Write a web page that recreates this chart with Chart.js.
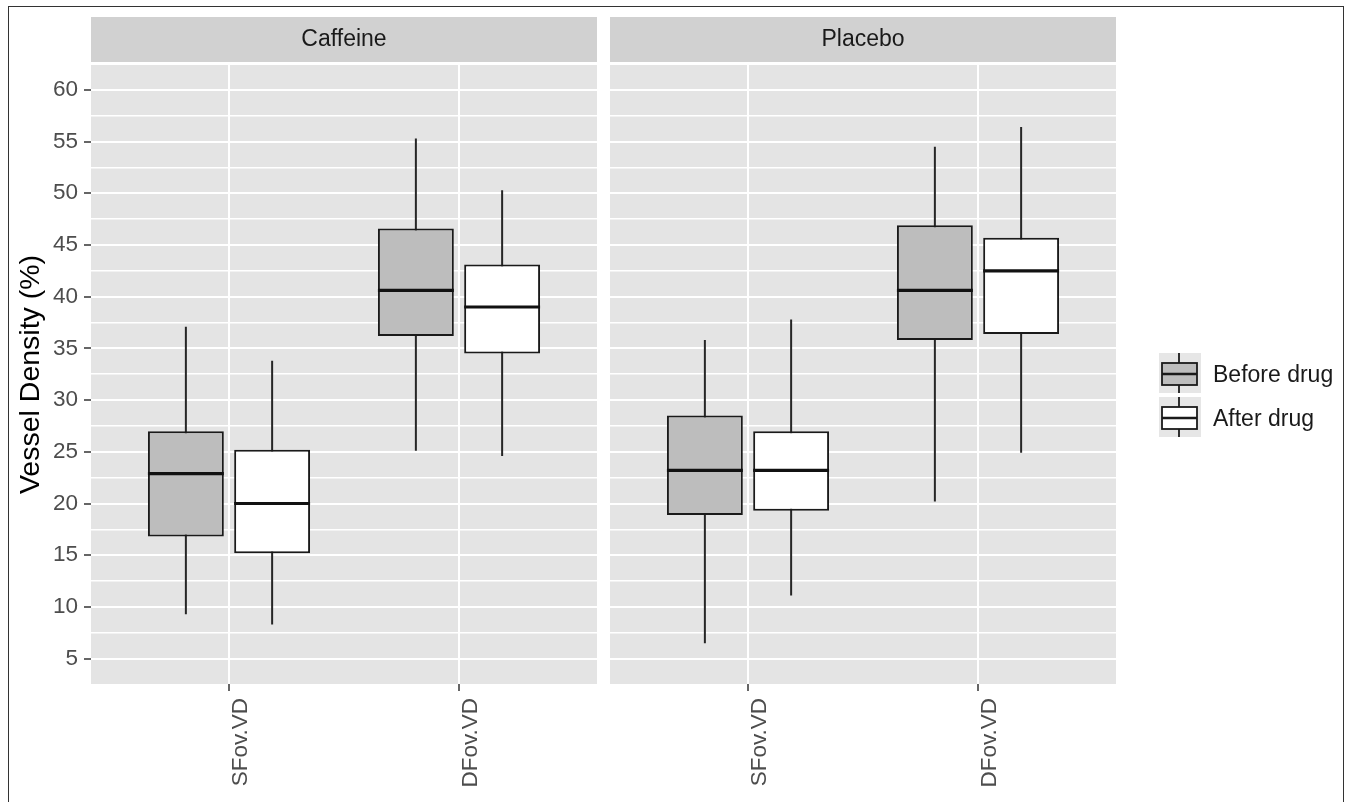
<!DOCTYPE html>
<html>
<head>
<meta charset="utf-8">
<script src="https://cdn.jsdelivr.net/npm/chart.js@4.4.1/dist/chart.umd.min.js"></script>
<style>
  html, body { margin: 0; padding: 0; background: #fff; overflow: hidden; }
  #wrap { position: relative; width: 1348px; height: 802px; }
  canvas { position: absolute; top: 0; }
  #cA { left: 0; }
  #cB { left: 600px; }
  #frame { position: absolute; left: 8px; top: 6px; width: 1336px; height: 810px;
           border: 1px solid #333; box-sizing: border-box; pointer-events: none; }
</style>
</head>
<body>
<div id="wrap">
  <canvas id="cA" width="600" height="802"></canvas>
  <canvas id="cB" width="748" height="802"></canvas>
  <div id="frame"></div>
</div>
<script>
/* facetted box plot: vessel density before / after drug */

var categories  = ['SFov.VD', 'DFov.VD'];
var facets      = ['Caffeine', 'Placebo'];
var seriesNames = ['Before drug', 'After drug'];
var seriesFill  = ['#bdbdbd', '#ffffff'];

// [lower whisker, Q1, median, Q3, upper whisker] per category
var caffeineBefore = [[9.3, 16.8, 22.9, 27.0, 37.1], [25.1, 36.2, 40.6, 46.6, 55.3]];
var caffeineAfter  = [[8.3, 15.2, 20.0, 25.2, 33.8], [24.6, 34.5, 39.0, 43.1, 50.3]];
var placeboBefore  = [[6.5, 18.9, 23.2, 28.5, 35.8], [20.2, 35.8, 40.6, 46.9, 54.5]];
var placeboAfter   = [[11.1, 19.3, 23.2, 27.0, 37.8], [24.9, 36.4, 42.5, 45.7, 56.4]];

var yTicks = [5, 10, 15, 20, 25, 30, 35, 40, 45, 50, 55, 60];
var yMin = 2.55, yMax = 62.4;

var FONT   = '"Liberation Sans", Arial, sans-serif';
var PANEL  = '#e4e4e4';
var STRIP  = '#d1d1d1';
var INK    = '#1a1a1a';
var TICKC  = '#4d4d4d';

Chart.defaults.font.family = FONT;

function isMajor(v) {
  return yTicks.indexOf(Math.round(v * 100) / 100) >= 0;
}

function gridValues() {
  var vals = [];
  yTicks.forEach(function(t) { vals.push(t - 2.5); vals.push(t); });
  vals.push(yTicks[yTicks.length - 1] + 2.5);
  return vals.filter(function(v) { return v >= yMin && v <= yMax; });
}

function boxDataset(label, fill, stats) {
  return {
    label: label,
    data: stats.map(function(s, i) { return { x: i + 1, y: [s[1], s[3]] }; }),
    stats: stats,
    backgroundColor: fill,
    borderColor: INK,
    borderWidth: 2,
    borderSkipped: false,
    categoryPercentage: 0.75,
    barPercentage: 0.88
  };
}

/* panel background + strip label */
var panelPlugin = {
  id: 'panel',
  beforeDraw: function(chart, args, opts) {
    var a = chart.chartArea, ctx = chart.ctx;
    ctx.save();
    ctx.fillStyle = PANEL;
    ctx.fillRect(a.left, a.top, a.right - a.left, a.bottom - a.top);
    ctx.fillStyle = STRIP;
    ctx.fillRect(a.left, 17, a.right - a.left, 45);
    ctx.fillStyle = INK;
    ctx.font = '23px ' + FONT;
    ctx.textAlign = 'center';
    ctx.textBaseline = 'middle';
    ctx.fillText(opts.label, (a.left + a.right) / 2, 40);
    ctx.restore();
  }
};

/* whiskers behind the boxes, medians on top */
var boxPlugin = {
  id: 'boxes',
  beforeDatasetsDraw: function(chart) {
    var ctx = chart.ctx, y = chart.scales.y;
    ctx.save();
    ctx.strokeStyle = '#262626';
    ctx.lineWidth = 2;
    chart.data.datasets.forEach(function(ds, di) {
      chart.getDatasetMeta(di).data.forEach(function(bar, i) {
        var s = ds.stats[i];
        ctx.beginPath();
        ctx.moveTo(bar.x, y.getPixelForValue(s[0]));
        ctx.lineTo(bar.x, y.getPixelForValue(s[4]));
        ctx.stroke();
      });
    });
    ctx.restore();
  },
  afterDatasetsDraw: function(chart) {
    var ctx = chart.ctx, y = chart.scales.y;
    ctx.save();
    ctx.strokeStyle = '#111111';
    ctx.lineWidth = 3.2;
    chart.data.datasets.forEach(function(ds, di) {
      chart.getDatasetMeta(di).data.forEach(function(bar, i) {
        var py = y.getPixelForValue(ds.stats[i][2]);
        ctx.beginPath();
        ctx.moveTo(bar.x - bar.width / 2, py);
        ctx.lineTo(bar.x + bar.width / 2, py);
        ctx.stroke();
      });
    });
    ctx.restore();
  }
};

/* legend with box glyph keys, right of the second panel */
var legendPlugin = {
  id: 'boxLegend',
  afterDraw: function(chart) {
    var ctx = chart.ctx;
    var x0 = 1159 - 600;
    ctx.save();
    chart.data.datasets.forEach(function(ds, i) {
      var top = 353 + i * 44;
      ctx.fillStyle = '#e6e6e6';
      ctx.fillRect(x0, top, 42, 40);
      ctx.strokeStyle = INK;
      ctx.lineWidth = 1.8;
      ctx.beginPath();
      ctx.moveTo(x0 + 20, top);
      ctx.lineTo(x0 + 20, top + 40);
      ctx.stroke();
      ctx.fillStyle = ds.backgroundColor;
      ctx.fillRect(x0 + 3, top + 10, 35, 22);
      ctx.strokeRect(x0 + 3, top + 10, 35, 22);
      ctx.lineWidth = 2.4;
      ctx.beginPath();
      ctx.moveTo(x0 + 3, top + 21);
      ctx.lineTo(x0 + 38, top + 21);
      ctx.stroke();
      ctx.fillStyle = INK;
      ctx.font = '23px ' + FONT;
      ctx.textAlign = 'left';
      ctx.textBaseline = 'middle';
      ctx.fillText(ds.label, 1213 - 600, top + 23);
    });
    ctx.restore();
  }
};

function makeScales(showY) {
  return {
    x: {
      type: 'linear',
      min: 0.4,
      max: 2.6,
      offset: false,
      afterBuildTicks: function(s) {
        s.ticks = categories.map(function(c, i) { return { value: i + 1 }; });
      },
      afterFit: function(s) { s.height = 118; },
      ticks: {
        autoSkip: false,
        minRotation: 90,
        maxRotation: 90,
        padding: 7,
        labelOffset: 12,
        color: TICKC,
        font: { size: 22.5 },
        callback: function(v) { return categories[Math.round(v) - 1] || ''; }
      },
      grid: { color: '#ffffff', lineWidth: 2, offset: false, tickLength: 7,
              tickColor: '#333333', tickWidth: 1.5 },
      border: { display: false }
    },
    y: {
      type: 'linear',
      min: yMin,
      max: yMax,
      beginAtZero: false,
      afterBuildTicks: function(s) {
        s.ticks = gridValues().map(function(v) { return { value: v }; });
      },
      afterFit: function(s) { s.width = showY ? 83 : 0; },
      title: {
        display: showY,
        text: 'Vessel Density (%)',
        color: '#000000',
        font: { size: 28.5 },
        padding: { top: 6, bottom: 0 }
      },
      ticks: {
        display: showY,
        autoSkip: false,
        padding: 6,
        color: TICKC,
        font: { size: 22.5 },
        callback: function(v) { return isMajor(v) ? String(v) : ''; }
      },
      grid: {
        color: '#ffffff',
        lineWidth: function(c) { return c.tick && isMajor(c.tick.value) ? 2 : 1.5; },
        drawTicks: showY,
        tickLength: 7,
        tickWidth: 1.5,
        tickColor: function(c) { return c.tick && isMajor(c.tick.value) ? '#333333' : 'rgba(0,0,0,0)'; }
      },
      border: { display: false }
    }
  };
}

function makeChart(id, facet, before, after, padding, extra) {
  var plugins = [panelPlugin, boxPlugin].concat(extra || []);
  return new Chart(document.getElementById(id), {
    type: 'bar',
    data: {
      datasets: [
        boxDataset(seriesNames[0], seriesFill[0], before),
        boxDataset(seriesNames[1], seriesFill[1], after)
      ]
    },
    options: {
      responsive: false,
      animation: false,
      layout: { padding: padding },
      scales: makeScales(id === 'cA'),
      plugins: {
        legend: { display: false },
        tooltip: { enabled: false },
        panel: { label: facet }
      }
    },
    plugins: plugins
  });
}

makeChart('cA', facets[0], caffeineBefore, caffeineAfter,
          { left: 8, right: 3, top: 65, bottom: 0 });
makeChart('cB', facets[1], placeboBefore, placeboAfter,
          { left: 10, right: 232, top: 65, bottom: 0 }, [legendPlugin]);
</script>
</body>
</html>
